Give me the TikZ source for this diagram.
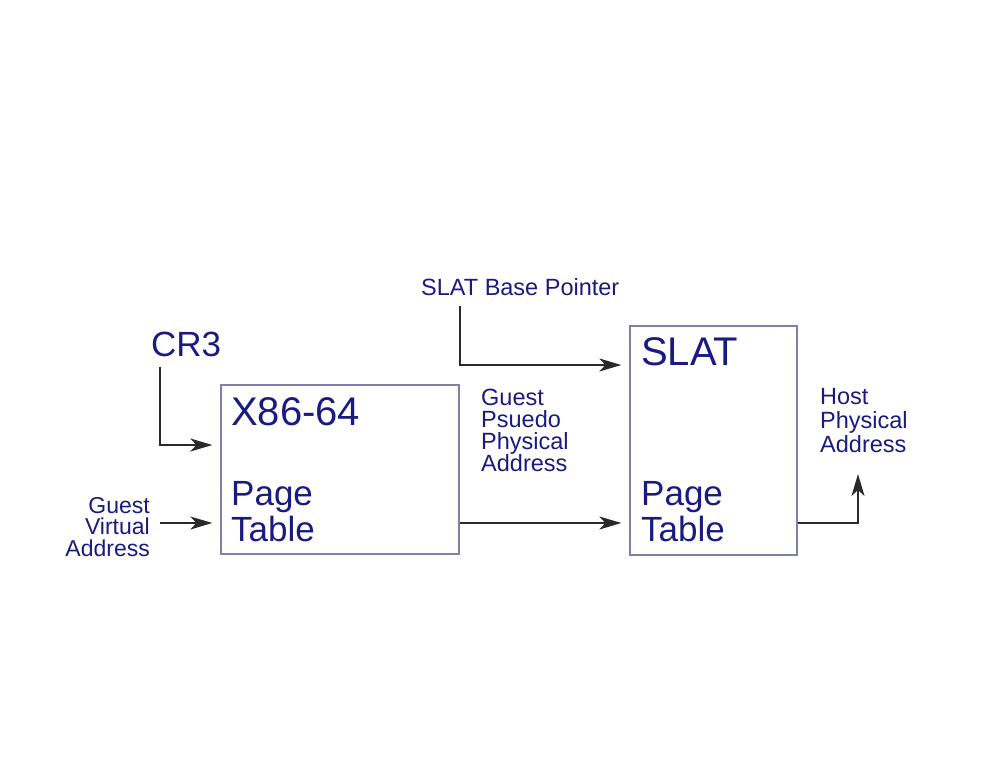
\documentclass[tikz,border=0pt]{standalone}
\usepackage{fontspec}
\setmainfont{Liberation Sans}
\usetikzlibrary{arrows.meta,positioning}
\definecolor{navytext}{HTML}{1A1A80}
\definecolor{boxline}{HTML}{7F7FA8}
\definecolor{arrline}{HTML}{2A2A2A}

\begin{document}
\begin{tikzpicture}
  [
  x=1pt, y=-1pt,
  textcol/.style={text=navytext, inner sep=0pt, anchor=base west},
  title/.style={textcol, font=\fontsize{40}{40}\selectfont},
  ptlabel/.style={textcol, align=left, font=\fontsize{35}{36}\selectfont},
  small/.style={textcol, font=\fontsize{23.5}{22}\selectfont},
  tablebox/.style={rectangle, draw=boxline, line width=1.3pt, inner sep=0pt},
  arr/.style={draw=arrline, line width=1.8pt, -{Stealth[length=22pt, width=13pt, inset=6pt]}, shorten >=8pt}
  ]
\useasboundingbox (0,0) rectangle (990,765);

% the two tables
\node[tablebox, minimum width=238, minimum height=169] (x86) at (340,469.5) {};
\node[tablebox, minimum width=167, minimum height=229] (slat) at (713.5,440.5) {};

\node[title] (x86title) at (231,425) {X86-64};
\node[title] (slattitle) at (641,365) {SLAT};
\node[ptlabel] (x86pt) at (231,541) {Page\\Table};
\node[ptlabel] (slatpt) at (641,541) {Page\\Table};

% inputs
\node[textcol, font=\fontsize{35}{35}\selectfont] (cr3) at (151,356) {CR3};
\node[small, font=\fontsize{23}{21.5}\selectfont, align=right, anchor=base east] (gva) at (150,556) {Guest\\Virtual\\Address};
\node[small] (sbp) at (421,295) {SLAT Base Pointer};
\node[small, align=left] (gppa) at (481,471) {Guest\\Psuedo\\Physical\\Address};
\node[small, font=\fontsize{23.5}{24}\selectfont, align=left] (hpa) at (820,452) {Host\\Physical\\Address};
\coordinate (hpain) at (858,474);

% connectors
\draw[arr] ([xshift=9pt,yshift=-10pt]cr3.south west) |- ([yshift=24.5pt]x86.west);
\draw[arr] ([xshift=10pt]gva.east |- 0,523) -- ([yshift=-53.5pt]x86.west);
\draw[arr] ([yshift=-53.5pt]x86.east) -- ([yshift=-53.5pt]x86.east -| slat.west);
\draw[arr] ([xshift=39pt,yshift=-11pt]sbp.south west) |- ([yshift=75.5pt]slat.west);
\draw[arr, shorten >=0pt] ([yshift=-82.5pt]slat.east) -| (hpain);
\end{tikzpicture}
\end{document}
